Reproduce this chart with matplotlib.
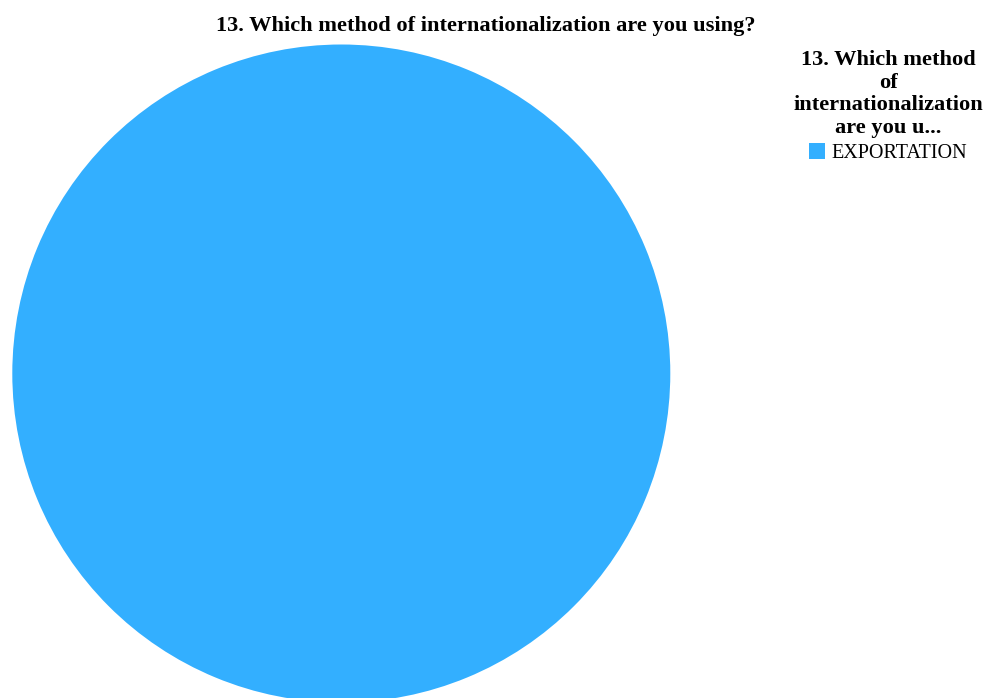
import matplotlib
matplotlib.use("Agg")
import matplotlib.pyplot as plt

categories = ["EXPORTATION"]
values = [1]
colors = ["#33afff"]
title = "13. Which method of internationalization are you using?"
legend_title = "13. Which method\nof\ninternationalization\nare you u..."

plt.rcParams['font.family'] = ['Liberation Serif', 'DejaVu Serif']

W, H = 985, 698
fig = plt.figure(figsize=(W/100, H/100), dpi=100)
cx, cy, r = 341.3, 373.5, 329.0
ax = fig.add_axes([(cx - r)/W, (H - cy - r)/H, 2*r/W, 2*r/H])
wedges, _ = ax.pie(values, colors=colors, startangle=90, radius=1,
                   wedgeprops=dict(linewidth=0))
ax.set_xlim(-1, 1)
ax.set_ylim(-1, 1)
ax.set_aspect('auto')
ax.axis('off')

fig.text(486/W, 1 - 26/H, title, ha='center', va='center',
         fontsize=16.1, fontweight='bold')

leg = fig.legend(wedges, categories, title=legend_title,
                 loc='upper center', bbox_to_anchor=(888/W, 1 - 40/H),
                 frameon=False, fontsize=14.5,
                 title_fontproperties={'weight': 'bold', 'size': 16.1},
                 handlelength=0.8, handleheight=0.8, handletextpad=0.3,
                 borderpad=0, labelspacing=0)
leg._legend_box.align = 'center'
leg._legend_box.sep = 4
leg.get_title().set_multialignment('center')
leg.get_title().set_linespacing(1.17)

fig.savefig("out.png", dpi=100)
